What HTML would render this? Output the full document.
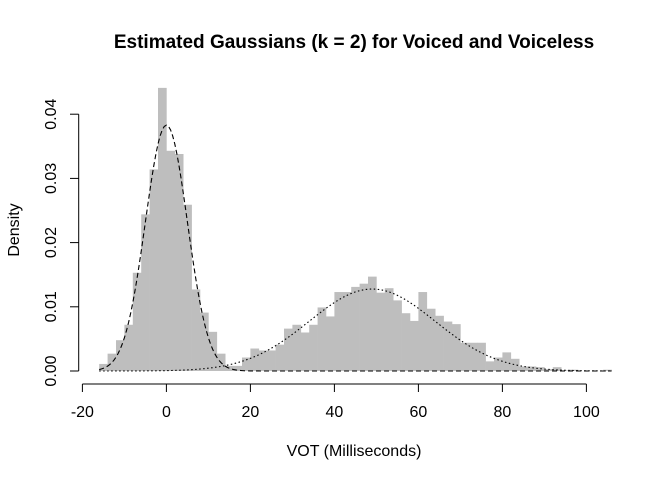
<!DOCTYPE html>
<html><head><meta charset="utf-8"><style>
body{margin:0;background:#fff;}
svg text{font-family:"Liberation Sans",Arial,sans-serif;fill:#000;}
</style></head><body>
<svg id="chart" width="672" height="480" xmlns="http://www.w3.org/2000/svg">
<text x="354" y="48" font-size="19" font-weight="bold" text-anchor="middle">Estimated Gaussians (k = 2) for Voiced and Voiceless</text>
<text x="354" y="456" font-size="16" text-anchor="middle">VOT (Milliseconds)</text>
<text transform="translate(19,230) rotate(-90)" font-size="16" text-anchor="middle">Density</text>
<g id="bars"></g><g id="curves"></g><g id="axes"></g>
</svg>
<script>
const binStart = -16;
const binWidth = 2;
const densities = [0.0011,0.0027,0.0048,0.0072,0.0153,0.0244,0.0314,0.0441,0.0343,0.0338,
0.0259,0.0127,0.0091,0.0061,0.0027,0.0008,0.0008,0.0021,0.0035,0.0032,
0.0032,0.0041,0.0066,0.0072,0.0060,0.0072,0.0099,0.0085,0.0123,0.0123,
0.0131,0.0136,0.0147,0.0122,0.0129,0.0110,0.0090,0.0078,0.0123,0.0097,
0.0086,0.0077,0.0073,0.0044,0.0044,0.0044,0.0015,0.0021,0.0029,0.0019,
0.0007,0.0007,0.0006,0.0003,0.0006,0.0001,0.0002,0,0,0,0.0002];
const xTicks = [-20,0,20,40,60,80,100];
const yTicks = [0,0.01,0.02,0.03,0.04];
const yTickLabels = ["0.00","0.01","0.02","0.03","0.04"];
const comp1 = [0, 5, 0.48];    // mean, sd, weight (voiced)
const comp2 = [49, 15, 0.48];  // mean, sd, weight (voiceless)

const X = v => 166.4 + 4.2 * v;
const Y = v => 371 - 6420 * v;
const NS = "http://www.w3.org/2000/svg";
function mk(tag, parent, attrs){const e=document.createElementNS(NS,tag);for(const k in attrs)e.setAttribute(k,attrs[k]);parent.appendChild(e);return e;}
const bars=document.getElementById('bars');
densities.forEach((d,i)=>{
  if(d<=0) return;
  const x0=X(binStart+i*binWidth), x1=X(binStart+(i+1)*binWidth);
  const r=mk('rect',bars,{x:x0,y:Y(d),width:x1-x0+0.3,height:Y(0)-Y(d),fill:'#bebebe'});
  
  
});
const curves=document.getElementById('curves');
function gauss(c,x){return c[2]/(c[1]*Math.sqrt(2*Math.PI))*Math.exp(-0.5*((x-c[0])/c[1])**2);}
[[comp1,'5,3','voiced-gaussian-curve'],[comp2,'1.5,2.5','voiceless-gaussian-curve']].forEach(([c,dash,name])=>{
  let d='';
  for(let x=-16;x<=106.001;x+=0.5){d+=(d?'L':'M')+X(x).toFixed(2)+','+Y(gauss(c,x)).toFixed(2);}
  const p=mk('path',curves,{d:d,fill:'none',stroke:'#000','stroke-width':1.1,'stroke-dasharray':dash});
  
  
});
const axes=document.getElementById('axes');
const xa=mk('line',axes,{x1:X(-20),x2:X(100),y1:384,y2:384,stroke:'#000'});


xTicks.forEach(t=>{
  mk('line',axes,{x1:X(t),x2:X(t),y1:384,y2:392,stroke:'#000'});
  const tx=mk('text',axes,{x:X(t),y:417,'font-size':16,'text-anchor':'middle'});
  tx.textContent=t;
  
  
});
const ya=mk('line',axes,{x1:78.7,x2:78.7,y1:Y(0),y2:Y(0.04),stroke:'#000'});


yTicks.forEach((t,i)=>{
  mk('line',axes,{x1:70,x2:78.7,y1:Y(t),y2:Y(t),stroke:'#000'});
  const tx=mk('text',axes,{transform:`translate(56,${Y(t)}) rotate(-90)`,'font-size':16,'text-anchor':'middle'});
  tx.textContent=yTickLabels[i];
  
  
});
</script>
</body></html>
